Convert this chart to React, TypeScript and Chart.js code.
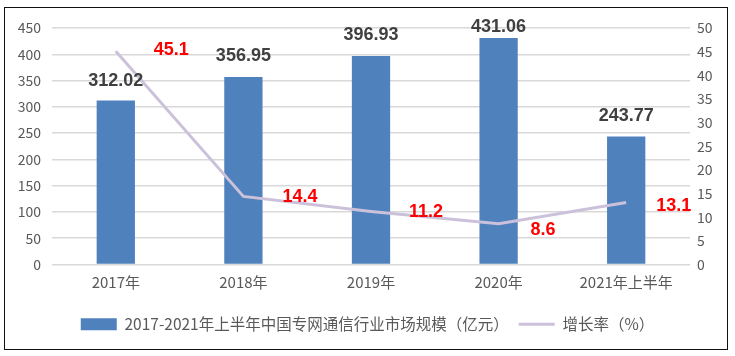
import React, { useEffect, useRef } from "react";
import { Chart, registerables } from "chart.js";

Chart.register(...registerables);

const categories = ["2017年", "2018年", "2019年", "2020年", "2021年上半年"];
const marketSize = [312.02, 356.95, 396.93, 431.06, 243.77];
const growthRate = [45.1, 14.4, 11.2, 8.6, 13.1];
const seriesNames = ["2017-2021年上半年中国专网通信行业市场规模（亿元）", "增长率（%）"];
const leftAxis = { min: 0, max: 450, step: 50 };
const rightAxis = { min: 0, max: 50, step: 5 };

const BAR_COLOR = "#4f81bd";
const LINE_COLOR = "#ccc1da";
const TEXT_COLOR = "#595959";
const CJK = "'Noto Sans CJK SC', 'Noto Sans', sans-serif";

// label offsets (reference places them by hand)
const barLabelGap = [15, 16, 16, 6, 15];
const lineLabelDx = [38, 39, 38, 32, 30];
const lineLabelDy = [-1, 1, 1, 6, 3];

const labelPlugin = {
  id: "valueLabels",
  afterDatasetsDraw(chart: any) {
    const ctx = chart.ctx;
    ctx.save();
    const barMeta = chart.getDatasetMeta(0);
    ctx.font = "bold 18px 'Liberation Sans', Arial, sans-serif";
    ctx.fillStyle = "#404040";
    ctx.textAlign = "center";
    ctx.textBaseline = "alphabetic";
    barMeta.data.forEach((el: any, i: number) => {
      ctx.fillText(marketSize[i].toFixed(2), el.x, el.y - barLabelGap[i]);
    });
    const lineMeta = chart.getDatasetMeta(1);
    ctx.fillStyle = "#ff0000";
    ctx.textAlign = "left";
    ctx.textBaseline = "middle";
    lineMeta.data.forEach((el: any, i: number) => {
      ctx.fillText(growthRate[i].toFixed(1), el.x + lineLabelDx[i], el.y + lineLabelDy[i]);
    });
    ctx.restore();
  },
};

export default function App() {
  const canvasRef = useRef<HTMLCanvasElement | null>(null);

  useEffect(() => {
    document.body.style.margin = "0";
    const canvas = canvasRef.current;
    if (!canvas) return;
    const chart = new Chart(canvas, {
      type: "bar",
      data: {
        labels: categories,
        datasets: [
          {
            type: "bar",
            label: seriesNames[0],
            data: marketSize,
            backgroundColor: BAR_COLOR,
            borderWidth: 0,
            barPercentage: 0.3,
            categoryPercentage: 1,
            yAxisID: "y",
            order: 2,
          } as any,
          {
            type: "line",
            label: seriesNames[1],
            data: growthRate,
            borderColor: LINE_COLOR,
            backgroundColor: LINE_COLOR,
            borderWidth: 3,
            pointRadius: 0,
            tension: 0,
            yAxisID: "y1",
            order: 1,
          } as any,
        ],
      },
      options: {
        responsive: false,
        devicePixelRatio: 1,
        animation: false,
        layout: { padding: { top: 28, left: 0, right: 0, bottom: 14 } },
        plugins: {
          tooltip: { enabled: false },
          legend: {
            position: "bottom",
            labels: {
              color: TEXT_COLOR,
              font: { family: CJK, size: 15.5 },
              usePointStyle: true,
              pointStyleWidth: 36,
              boxHeight: 12,
              padding: 10,
              generateLabels: (chart: any) =>
                chart.data.datasets.map((ds: any, i: number) => ({
                  text: ds.label,
                  fillStyle: i === 0 ? BAR_COLOR : LINE_COLOR,
                  strokeStyle: i === 0 ? BAR_COLOR : LINE_COLOR,
                  lineWidth: i === 0 ? 0 : 3,
                  pointStyle: i === 0 ? "rect" : "line",
                  fontColor: TEXT_COLOR,
                  hidden: false,
                  datasetIndex: i,
                })),
            },
          },
        },
        scales: {
          x: {
            grid: { display: false, drawTicks: false },
            border: { display: false },
            ticks: { color: TEXT_COLOR, font: { family: CJK, size: 15 }, padding: 9 },
            afterFit: (s: any) => {
              s.height = 42;
            },
          },
          y: {
            position: "left",
            min: leftAxis.min,
            max: leftAxis.max,
            grid: { color: "#d9d9d9", lineWidth: 1.5, drawTicks: false },
            border: { display: false },
            ticks: {
              stepSize: leftAxis.step,
              color: TEXT_COLOR,
              font: { family: CJK, size: 14 },
              padding: 11,
            },
            afterFit: (s: any) => {
              s.width = 52;
            },
          },
          y1: {
            position: "right",
            min: rightAxis.min,
            max: rightAxis.max,
            grid: { drawOnChartArea: false, drawTicks: false },
            border: { display: false },
            ticks: {
              stepSize: rightAxis.step,
              color: TEXT_COLOR,
              font: { family: CJK, size: 14 },
              padding: 7,
            },
            afterFit: (s: any) => {
              s.width = 45;
            },
          },
        },
      },
      plugins: [labelPlugin],
    } as any);
    return () => chart.destroy();
  }, []);

  return (
    <div style={{ position: "fixed", left: 0, top: 0, width: 735, height: 356, background: "#fff" }}>
      <canvas ref={canvasRef} width={735} height={356} style={{ display: "block" }} />
      <div
        style={{
          position: "absolute",
          left: 4,
          top: 7,
          width: 724,
          height: 343,
          border: "1.5px solid #111",
          boxSizing: "border-box",
          pointerEvents: "none",
        }}
      />
    </div>
  );
}
